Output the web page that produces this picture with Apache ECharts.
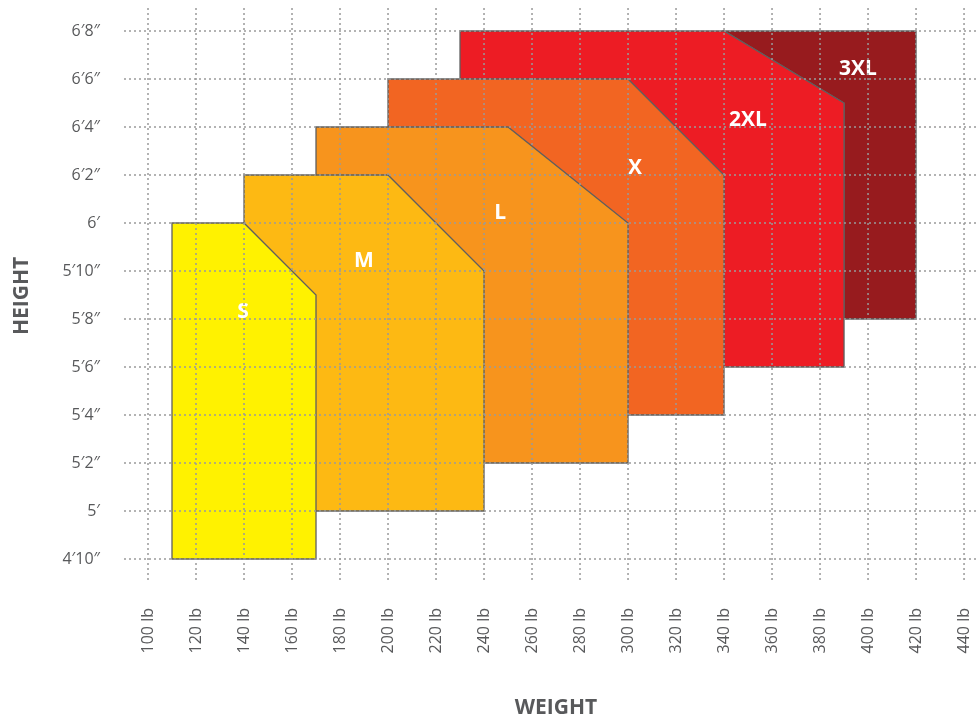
<!DOCTYPE html>
<html>
<head>
<meta charset="utf-8">
<script src="https://cdn.jsdelivr.net/npm/echarts@6/dist/echarts.min.js"></script>
<style>
  html, body { margin: 0; padding: 0; background: #fff; }
  #chart { width: 977px; height: 718px; }
</style>
</head>
<body>
<div id="chart"></div>
<script>
// tick values
const weightTicks = [100, 120, 140, 160, 180, 200, 220, 240, 260, 280, 300, 320, 340, 360, 380, 400, 420, 440];
const heightTicks = [58, 60, 62, 64, 66, 68, 70, 72, 74, 76, 78, 80]; // inches

// size regions, [weight lb, height in], drawn back to front
const sizeNames = ['3XL', '2XL', 'X', 'L', 'M', 'S'];
const sizeOutlines = [
  [[340, 80], [420, 80], [420, 68], [390, 68], [390, 77]],
  [[230, 80], [340, 80], [390, 77], [390, 66], [230, 66]],
  [[200, 78], [300, 78], [340, 74], [340, 64], [200, 64]],
  [[170, 76], [250, 76], [300, 72], [300, 62], [170, 62]],
  [[140, 74], [200, 74], [240, 70], [240, 60], [140, 60]],
  [[110, 72], [140, 72], [170, 69], [170, 58], [110, 58]]
];
const labelSpots = [[395.8, 78.4], [350, 76.3], [302.9, 74.3], [246.7, 72.4], [190, 70.4], [139.6, 68.3]];
const sizeColors = ['#971b1e', '#ed1c24', '#f26522', '#f7941d', '#fdb913', '#fff200'];

function heightLabel(v) {
  const ft = Math.floor(v / 12);
  const inch = Math.round(v - ft * 12);
  return inch === 0 ? ft + '\u2032' : ft + '\u2032' + inch + '\u2033';
}

const chart = echarts.init(document.getElementById('chart'));

const textFont = '"Open Sans", "Noto Sans", sans-serif';
const gridStyle = { stroke: '#9a9a9a', lineWidth: 1.5, lineDash: [2, 3] };

chart.setOption({
  animation: false,
  grid: { left: 124, right: 0, top: 8, bottom: 138 },
  xAxis: {
    type: 'value',
    min: 90,
    max: 445.4,
    splitLine: { show: false },
    axisLine: { show: false },
    axisTick: { show: false },
    axisLabel: {
      customValues: weightTicks,
      formatter: v => v + ' lb',
      rotate: 90,
      margin: 28,
      color: '#58595b',
      fontSize: 16,
      fontFamily: textFont
    }
  },
  yAxis: {
    type: 'value',
    min: 57.125,
    max: 80.958,
    splitLine: { show: false },
    axisLine: { show: false },
    axisTick: { show: false },
    axisLabel: {
      customValues: heightTicks,
      formatter: heightLabel,
      margin: 24,
      color: '#58595b',
      fontSize: 16,
      fontFamily: textFont
    }
  },
  graphic: [
    {
      type: 'text', x: 22, y: 296, rotation: Math.PI / 2,
      style: { text: 'HEIGHT', fill: '#58595b', font: 'bold 21px ' + textFont, align: 'center', verticalAlign: 'middle' }
    },
    {
      type: 'text', x: 556, y: 708,
      style: { text: 'WEIGHT', fill: '#58595b', font: 'bold 21px ' + textFont, align: 'center', verticalAlign: 'middle' }
    }
  ],
  series: [
    {
      type: 'custom',
      z: 2,
      data: sizeNames.map((name, i) => ({ name: name, value: labelSpots[i] })),
      renderItem: function (params, api) {
        const i = params.dataIndex;
        const pts = sizeOutlines[i].map(p => api.coord(p));
        const c = api.coord(labelSpots[i]);
        return {
          type: 'group',
          children: [
            {
              type: 'polygon',
              shape: { points: pts },
              style: { fill: sizeColors[i], stroke: '#5f5f5f', lineWidth: 1.3 }
            },
            {
              type: 'text',
              x: c[0], y: c[1], z2: 10,
              style: {
                text: sizeNames[i], fill: '#fff', font: 'bold 21px ' + textFont,
                align: 'center', verticalAlign: 'middle'
              }
            }
          ]
        };
      }
    },
    {
      // vertical dotted grid
      type: 'custom',
      z: 3,
      silent: true,
      data: weightTicks.map(w => [w, 70]),
      renderItem: function (params, api) {
        const x = api.coord([api.value(0), 70])[0];
        const cs = params.coordSys;
        return {
          type: 'line',
          shape: { x1: x, y1: cs.y, x2: x, y2: cs.y + cs.height },
          style: gridStyle
        };
      }
    },
    {
      // horizontal dotted grid
      type: 'custom',
      z: 3,
      silent: true,
      data: heightTicks.map(h => [200, h]),
      renderItem: function (params, api) {
        const y = api.coord([200, api.value(1)])[1];
        const cs = params.coordSys;
        return {
          type: 'line',
          shape: { x1: cs.x, y1: y, x2: cs.x + cs.width, y2: y },
          style: gridStyle
        };
      }
    }
  ]
});
</script>
</body>
</html>
